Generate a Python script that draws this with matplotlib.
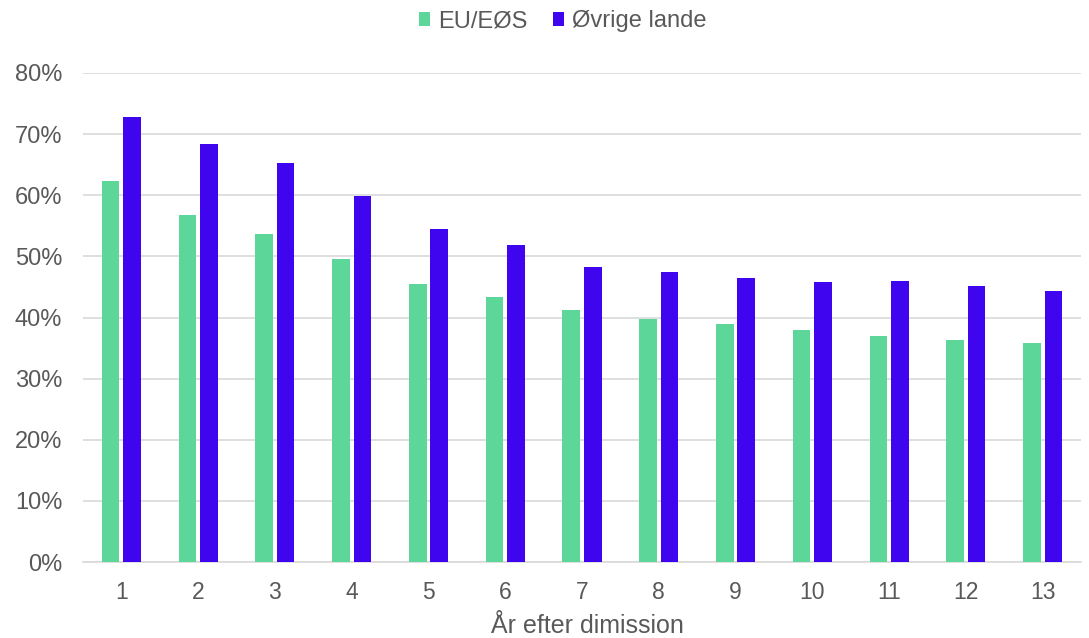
import matplotlib
matplotlib.use("Agg")
import matplotlib.pyplot as plt
import numpy as np
from matplotlib.ticker import PercentFormatter

plt.rcParams['font.family'] = ['Liberation Sans', 'DejaVu Sans']

years = [str(i) for i in range(1, 14)]
eu_eos = [62.3, 56.7, 53.6, 49.6, 45.5, 43.3, 41.3, 39.7, 39.0, 38.0, 37.0, 36.4, 35.9]
ovrige = [72.8, 68.4, 65.2, 59.8, 54.4, 51.9, 48.2, 47.5, 46.4, 45.8, 46.0, 45.2, 44.4]

green = "#5CD699"
purple = "#3F05EE"
txt = "#595959"

fig = plt.figure(figsize=(10.89, 6.38), dpi=100)
ax = fig.add_axes([0.0762, 0.1191, 0.9165, 0.7665])

x = np.arange(len(years))
w = 0.23
ax.bar(x - 0.14, eu_eos, w, color=green, label="EU/EØS", zorder=3)
ax.bar(x + 0.14, ovrige, w, color=purple, label="Øvrige lande", zorder=3)

ax.set_xlim(-0.5, len(years) - 0.5)
ax.set_ylim(0, 80)
ax.set_yticks(np.arange(0, 81, 10))
ax.yaxis.set_major_formatter(PercentFormatter(decimals=0))
ax.set_xticks(x)
ax.set_xticklabels(years)
ax.grid(axis='y', color="#D9D9D9", lw=1.2, zorder=0)

for s in ['top', 'right', 'left']:
    ax.spines[s].set_visible(False)
ax.spines['bottom'].set_color("#D9D9D9")
ax.spines['bottom'].set_linewidth(1.2)
ax.tick_params(axis='y', length=0, labelsize=17, colors=txt, pad=15)
ax.tick_params(axis='x', length=0, labelsize=16.5, colors=txt, pad=14)

ax.set_xlabel("År efter dimission", fontsize=18, color=txt)
ax.xaxis.set_label_coords(0.5055, -0.145)
ax.xaxis.label.set_va('baseline')

fig.legend(*ax.get_legend_handles_labels(), loc='center', bbox_to_anchor=(0.517, 0.967),
           ncol=2, frameon=False, fontsize=17, labelcolor=txt,
           handlelength=0.45, handleheight=0.55, columnspacing=1.1, handletextpad=0.35,
           borderpad=0)

plt.savefig("out.png", dpi=100)
